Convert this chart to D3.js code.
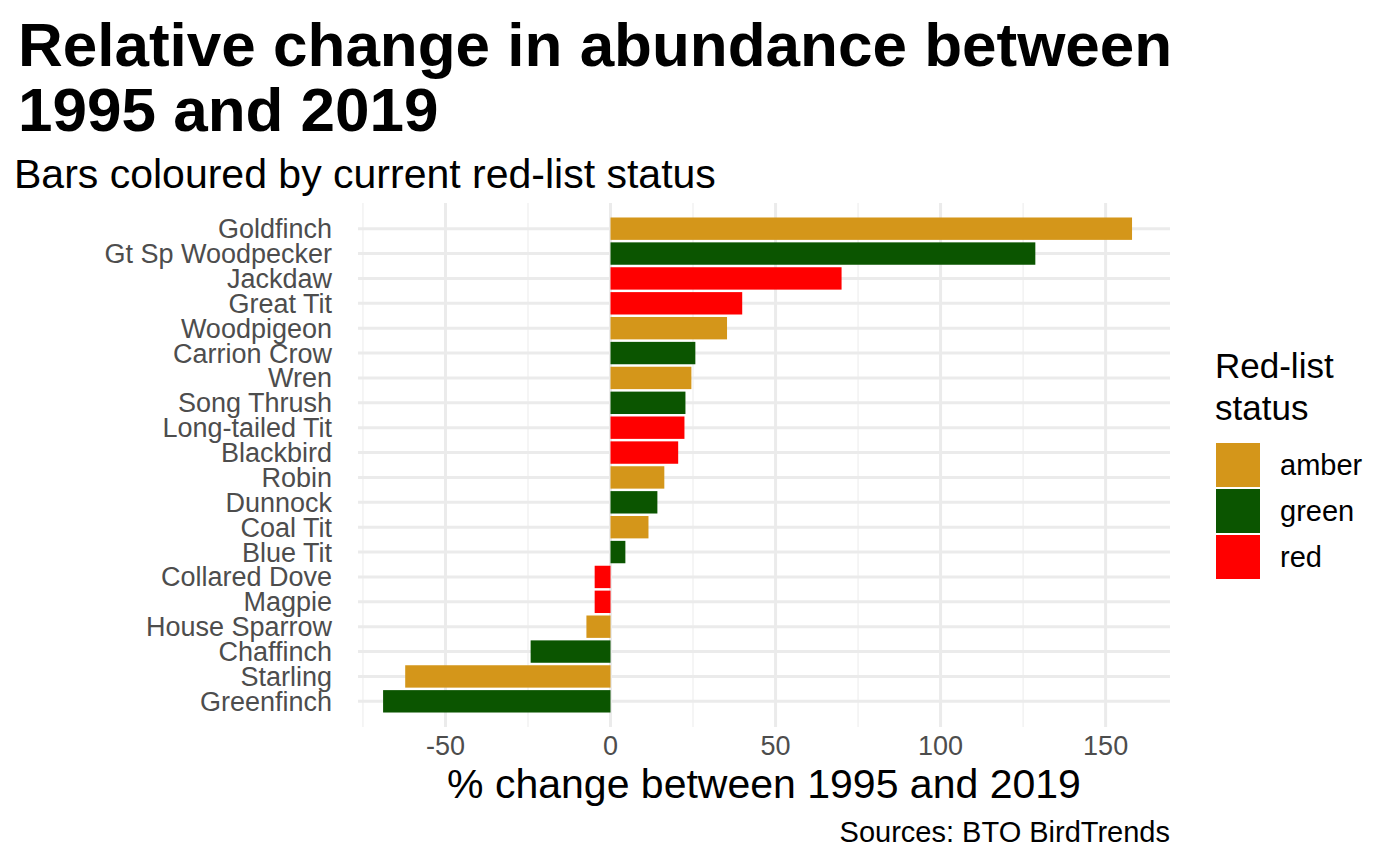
<!DOCTYPE html>
<html><head><meta charset="utf-8">
<script src="https://cdn.jsdelivr.net/npm/d3@7"></script>
<style>body{margin:0;background:#fff}text{font-family:"Liberation Sans",Arial,sans-serif}</style>
</head><body>
<svg id="chart" width="1400" height="865"></svg>
<script>
// data
var species = ["Goldfinch","Gt Sp Woodpecker","Jackdaw","Great Tit","Woodpigeon","Carrion Crow","Wren",
  "Song Thrush","Long-tailed Tit","Blackbird","Robin","Dunnock","Coal Tit","Blue Tit","Collared Dove",
  "Magpie","House Sparrow","Chaffinch","Starling","Greenfinch"];
var change = [158,128.7,70,39.9,35.3,25.7,24.5,22.7,22.4,20.5,16.3,14.2,11.5,4.5,-4.8,-4.8,-7.3,-24.2,-62.2,-68.9];
var status = ["green","green","green","green","green","green","green","amber","green","green","green","amber",
  "green","green","green","green","red","green","red","red"];
var statusLevels = ["amber","green","red"];
var statusColours = ["#d4961a","#0b5500","#ff0000"];
var majorTicks = [-50,0,50,100,150];
var minorTicks = [-75,-25,25,75,125];

var svg = d3.select("#chart");
var plotLeft = 358, plotRight = 1170, plotTop = 215, plotBottom = 715;

var x = d3.scaleLinear().domain([-76.5, 169.5]).range([plotLeft, plotRight]);
var y = d3.scaleBand().domain(species).range([plotTop, plotBottom]).padding(0.1);
var colour = d3.scaleOrdinal().domain(statusLevels).range(statusColours);

// grid
var g = svg.append("g");
g.selectAll(".minor").data(minorTicks.filter(function(t){return x(t)>=plotLeft;})).enter().append("line")
  .attr("x1", x).attr("x2", x).attr("y1", plotTop - 12).attr("y2", plotBottom + 12)
  .attr("stroke", "#f2f2f2").attr("stroke-width", 1.5);
g.selectAll(".major").data(majorTicks).enter().append("line")
  .attr("x1", x).attr("x2", x).attr("y1", plotTop - 12).attr("y2", plotBottom + 12)
  .attr("stroke", "#ebebeb").attr("stroke-width", 3);
g.selectAll(".hgrid").data(species).enter().append("line")
  .attr("x1", plotLeft).attr("x2", plotRight)
  .attr("y1", function(d){return y(d) + y.bandwidth()/2;})
  .attr("y2", function(d){return y(d) + y.bandwidth()/2;})
  .attr("stroke", "#ebebeb").attr("stroke-width", 3);

// bars
g.selectAll("rect").data(species).enter().append("rect")
  .attr("x", function(d,i){return x(Math.min(0, change[i]));})
  .attr("width", function(d,i){return Math.abs(x(change[i]) - x(0));})
  .attr("y", function(d){return y(d);})
  .attr("height", y.bandwidth())
  .attr("fill", function(d,i){return colour(status[i]);});

// labels
g.selectAll(".ylab").data(species).enter().append("text")
  .attr("x", plotLeft - 26).attr("y", function(d){return y(d) + y.bandwidth()/2;})
  .attr("dy", "0.35em").attr("text-anchor", "end")
  .attr("font-size", 27).attr("fill", "#4d4d4d").text(function(d){return d;});
g.selectAll(".xlab").data(majorTicks).enter().append("text")
  .attr("x", x).attr("y", 755).attr("text-anchor", "middle")
  .attr("font-size", 27).attr("fill", "#4d4d4d").text(function(d){return d;});

svg.append("text").attr("x", (plotLeft + plotRight)/2).attr("y", 798).attr("text-anchor", "middle")
  .attr("font-size", 41).text("% change between 1995 and 2019");
svg.append("text").attr("x", plotRight).attr("y", 842).attr("text-anchor", "end")
  .attr("font-size", 29).text("Sources: BTO BirdTrends");

// titles
svg.append("text").attr("x", 18).attr("y", 66).attr("font-size", 62).attr("font-weight", "bold")
  .text("Relative change in abundance between");
svg.append("text").attr("x", 18).attr("y", 131).attr("font-size", 62).attr("font-weight", "bold")
  .text("1995 and 2019");
svg.append("text").attr("x", 14).attr("y", 188).attr("font-size", 41)
  .text("Bars coloured by current red-list status");

// legend
svg.append("text").attr("x", 1215).attr("y", 378).attr("font-size", 35).text("Red-list");
svg.append("text").attr("x", 1215).attr("y", 420).attr("font-size", 35).text("status");
var lg = svg.selectAll(".key").data(statusLevels).enter().append("g")
  .attr("transform", function(d,i){return "translate(1216," + (443 + i*46) + ")";});
lg.append("rect").attr("width", 44).attr("height", 44).attr("fill", function(d){return colour(d);});
lg.append("text").attr("x", 64).attr("y", 22).attr("dy", "0.35em").attr("font-size", 29).text(function(d){return d;});
</script>
</body></html>
